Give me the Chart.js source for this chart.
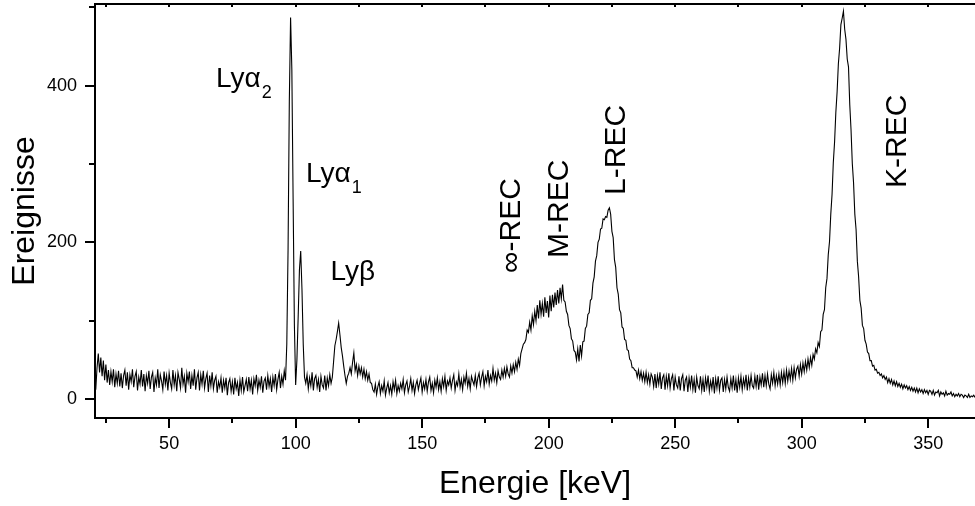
<!DOCTYPE html>
<html>
<head>
<meta charset="utf-8">
<script src="https://cdn.jsdelivr.net/npm/chart.js@4.4.1/dist/chart.umd.min.js"></script>
<style>
  html, body { margin: 0; padding: 0; background: #fff; }
</style>
</head>
<body>
<canvas id="spectrum" width="975" height="506"></canvas>
<script>
// energy calibration of the spectrum channels (keV)
const channelStart = 21;
const channelWidth = 0.5;

// counts per channel, one row = 10 keV
const counts = [
  12, 40, 58, 34, 53, 29, 49, 24, 44, 21, 37, 18, 35, 22, 38, 15, 32, 20, 36, 16,
  33, 14, 30, 37, 17, 34, 12, 31, 22, 38, 15, 29, 35, 11, 28, 19, 37, 16, 32, 10,
  30, 20, 36, 13, 28, 34, 9, 27, 18, 38, 14, 31, 23, 12, 35, 19, 30, 11, 33, 21,
  13, 37, 18, 30, 10, 34, 25, 14, 40, 19, 29, 8, 33, 22, 35, 13, 30, 17, 38, 12,
  27, 34, 11, 31, 19, 36, 14, 26, 33, 9, 30, 17, 34, 13, 24, 29, 8, 22, 15, 27,
  8, 24, 14, 27, 5, 21, 26, 10, 22, 6, 27, 13, 21, 4, 24, 11, 28, 9, 17, 25,
  10, 28, 13, 24, 6, 26, 17, 31, 11, 24, 15, 29, 8, 23, 27, 12, 30, 16, 26, 9,
  28, 17, 32, 12, 25, 34, 14, 29, 19, 36, 24, 70, 190, 380, 487, 420, 255, 95, 18, 50,
  105, 165, 189, 140, 70, 28, 20, 31, 13, 27, 17, 34, 11, 26, 30, 15, 25, 9, 29, 18,
  14, 30, 11, 27, 17, 31, 20, 28, 48, 68, 76, 86, 97, 82, 66, 55, 42, 30, 20, 29,
  33, 40, 32, 47, 59, 36, 44, 30, 42, 32, 40, 28, 38, 26, 35, 24, 32, 21, 20, 12,
  9, 19, 6, 16, 22, 7, 17, 10, 23, 5, 14, 21, 8, 17, 6, 22, 12, 24, 7, 17,
  10, 20, 13, 25, 8, 18, 23, 9, 16, 26, 11, 21, 7, 18, 24, 12, 20, 27, 9, 21,
  13, 25, 10, 22, 28, 11, 20, 8, 24, 15, 27, 12, 22, 10, 26, 16, 29, 11, 23, 18,
  27, 14, 24, 31, 11, 22, 17, 32, 15, 25, 12, 28, 20, 33, 16, 26, 13, 29, 23, 18,
  30, 16, 27, 33, 18, 28, 35, 17, 29, 22, 37, 19, 30, 23, 39, 24, 33, 21, 36, 28,
  25, 37, 28, 39, 29, 41, 32, 28, 42, 33, 44, 35, 47, 38, 51, 43, 58, 64, 70, 72,
  76, 88, 85, 98, 88, 106, 95, 112, 100, 120, 103, 126, 108, 122, 105, 130, 110, 125, 104, 132,
  112, 133, 117, 136, 120, 139, 122, 142, 128, 146, 126, 124, 112, 108, 94, 90, 77, 74, 62, 60,
  50, 64, 48, 69, 55, 73, 74, 90, 93, 108, 110, 126, 128, 148, 156, 176, 183, 200, 204, 217,
  218, 230, 229, 233, 232, 241, 244, 236, 214, 206, 178, 168, 142, 134, 114, 110, 92, 90, 76, 75,
  63, 62, 51, 49, 40, 40, 37, 36, 28, 37, 26, 35, 24, 33, 22, 34, 21, 31, 19, 32,
  28, 16, 32, 14, 30, 19, 34, 13, 27, 31, 12, 29, 17, 33, 14, 26, 31, 11, 28, 18,
  14, 29, 11, 26, 31, 10, 24, 28, 9, 27, 15, 30, 12, 25, 8, 28, 17, 13, 29, 11,
  25, 9, 27, 15, 30, 10, 23, 13, 28, 7, 26, 14, 29, 11, 24, 27, 9, 25, 13, 28,
  15, 10, 26, 14, 30, 11, 25, 8, 27, 15, 29, 12, 26, 16, 31, 11, 27, 15, 30, 17,
  14, 29, 16, 31, 12, 28, 18, 33, 15, 30, 17, 32, 19, 13, 31, 20, 34, 17, 30, 19,
  32, 18, 34, 21, 35, 20, 37, 23, 36, 25, 39, 24, 40, 27, 38, 42, 29, 44, 32, 46,
  35, 48, 37, 51, 40, 53, 43, 57, 51, 64, 59, 72, 67, 86, 88, 108, 114, 142, 154, 184,
  201, 236, 261, 302, 328, 366, 392, 428, 448, 478, 486, 495, 472, 459, 434, 424, 376, 344, 301, 276,
  236, 216, 176, 156, 126, 116, 94, 90, 75, 70, 60, 58, 49, 49, 42, 43, 37, 38, 33, 34,
  30, 32, 27, 30, 25, 28, 21, 26, 20, 25, 18, 23, 17, 22, 16, 20, 15, 19, 13, 18,
  14, 17, 12, 16, 11, 15, 10, 14, 9, 14, 8, 13, 9, 12, 7, 12, 8, 11, 6, 11,
  10, 6, 11, 5, 9, 8, 11, 4, 9, 6, 8, 4, 10, 5, 7, 6, 9, 4, 7, 3,
  6, 4, 7, 3, 6, 5, 2, 5, 4, 2, 6, 2, 4, 3, 5, 2
];

// axis ranges and ticks
const xRange = [20.7, 368.5];
const yRange = [-24.2, 504.2];
const xTickStep = 25, xLabelStep = 50;
const yTickStep = 100, yLabelStep = 200;

// peak names, anchored in data units (keV, counts)
const peakNames = [
  { text: 'Ly\u03b1', sub: '2', x: 68.5, y: 398.7, vertical: false },
  { text: 'Ly\u03b1', sub: '1', x: 104.1, y: 277.6, vertical: false },
  { text: 'Ly\u03b2', sub: '', x: 113.8, y: 152.2, vertical: false },
  { text: '\u221e-REC', sub: '', x: 188.7, y: 161, vertical: true },
  { text: 'M-REC', sub: '', x: 207.6, y: 180, vertical: true },
  { text: 'L-REC', sub: '', x: 230.2, y: 260.5, vertical: true },
  { text: 'K-REC', sub: '', x: 341.3, y: 269.5, vertical: true }
];

const FONT = '"Liberation Sans", Arial, Helvetica, sans-serif';

const points = counts.map((c, i) => ({ x: channelStart + i * channelWidth, y: c }));

// frame, outward ticks and peak names
const framePlugin = {
  id: 'frame',
  afterDatasetsDraw(chart) {
    const { ctx, chartArea: a, scales: { x, y } } = chart;
    ctx.save();
    ctx.strokeStyle = '#000';
    ctx.lineWidth = 2;
    ctx.beginPath();
    ctx.moveTo(a.right + 2, a.top);
    ctx.lineTo(a.left, a.top);
    ctx.lineTo(a.left, a.bottom);
    ctx.lineTo(a.right + 2, a.bottom);
    x.ticks.forEach(t => {
      const px = Math.round(x.getPixelForValue(t.value));
      const len = t.value % xLabelStep === 0 ? 10 : 5;
      ctx.moveTo(px, a.bottom);
      ctx.lineTo(px, a.bottom + len);
      ctx.moveTo(px, a.top);
      ctx.lineTo(px, a.top + 3);
    });
    y.ticks.forEach(t => {
      const py = Math.round(y.getPixelForValue(t.value));
      const len = t.value % yLabelStep === 0 ? 10 : 6;
      ctx.moveTo(a.left, py);
      ctx.lineTo(a.left - len, py);
    });
    ctx.stroke();

    ctx.fillStyle = '#000';
    ctx.textBaseline = 'alphabetic';
    ctx.textAlign = 'left';
    peakNames.forEach(p => {
      const px = x.getPixelForValue(p.x);
      const py = y.getPixelForValue(p.y);
      if (p.vertical) {
        ctx.save();
        ctx.translate(px, py);
        ctx.rotate(-Math.PI / 2);
        ctx.font = '30px ' + FONT;
        ctx.fillText(p.text, 0, 0);
        ctx.restore();
      } else {
        ctx.font = '28px ' + FONT;
        ctx.fillText(p.text, px, py);
        if (p.sub) {
          const w = ctx.measureText(p.text).width;
          ctx.font = '18px ' + FONT;
          ctx.fillText(p.sub, px + w + 1, py + 11);
        }
      }
    });
    ctx.restore();
  }
};

new Chart(document.getElementById('spectrum'), {
  type: 'line',
  data: {
    datasets: [{
      data: points,
      borderColor: '#000',
      borderWidth: 1.1,
      pointRadius: 0,
      tension: 0,
      fill: false
    }]
  },
  options: {
    responsive: false,
    animation: false,
    events: [],
    layout: { padding: { top: 4, left: 0, right: 0, bottom: 0 } },
    plugins: { legend: { display: false }, tooltip: { enabled: false } },
    scales: {
      x: {
        type: 'linear',
        min: xRange[0],
        max: xRange[1],
        grid: { display: false, drawTicks: false },
        border: { display: false },
        ticks: {
          stepSize: xTickStep,
          includeBounds: false,
          autoSkip: false,
          maxRotation: 0,
          padding: 15,
          color: '#000',
          font: { family: FONT, size: 18 },
          callback: v => (v % xLabelStep === 0 ? v : '')
        },
        title: {
          display: true,
          text: 'Energie [keV]',
          color: '#000',
          font: { family: FONT, size: 32 },
          padding: { top: 0, bottom: 3 }
        },
        afterFit: s => {
          s.height = 88;
          s.paddingLeft = 0; s.paddingRight = 0;
        }
      },
      y: {
        type: 'linear',
        min: yRange[0],
        max: yRange[1],
        grid: { display: false, drawTicks: false },
        border: { display: false },
        ticks: {
          stepSize: yTickStep,
          includeBounds: false,
          autoSkip: false,
          padding: 18,
          color: '#000',
          font: { family: FONT, size: 18 },
          callback: v => (v % yLabelStep === 0 ? v : '')
        },
        title: {
          display: true,
          text: 'Ereignisse',
          color: '#000',
          font: { family: FONT, size: 32 },
          padding: { top: 6, bottom: 0 }
        },
        afterFit: s => {
          s.width = 95;
          s.paddingTop = 0; s.paddingBottom = 0;
        }
      }
    }
  },
  plugins: [framePlugin]
});
</script>
</body>
</html>
